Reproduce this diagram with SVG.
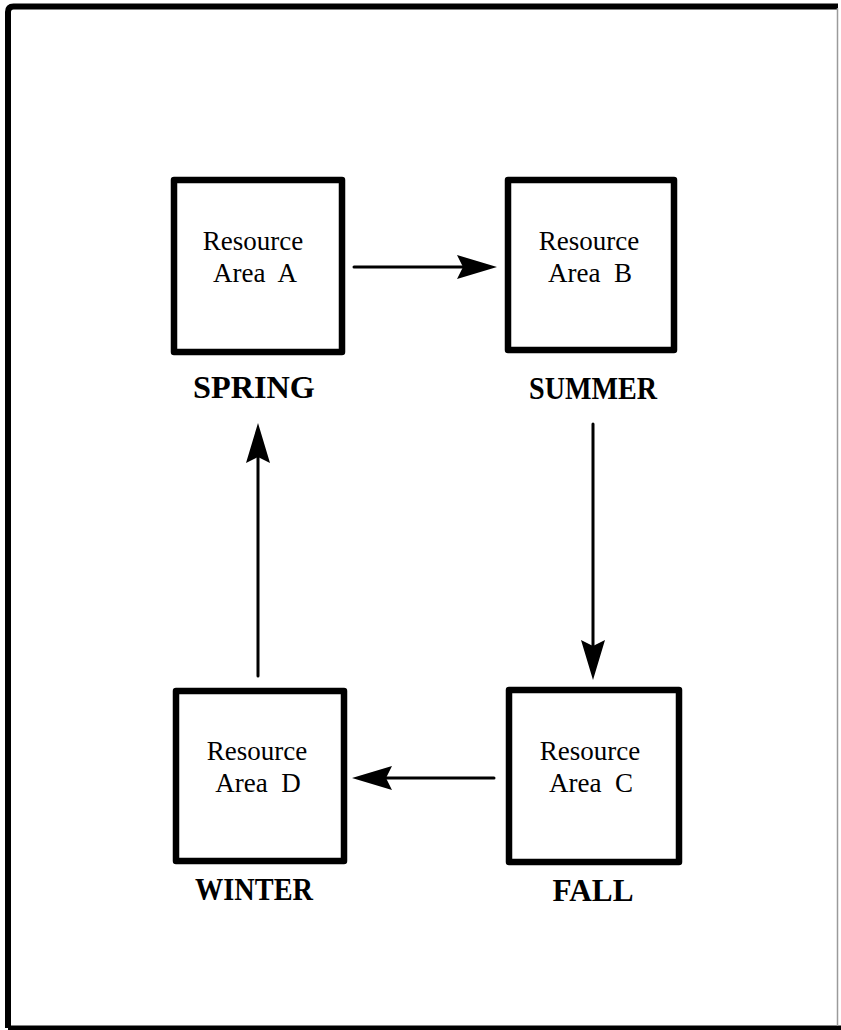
<svg xmlns="http://www.w3.org/2000/svg" width="841" height="1030" viewBox="0 0 841 1030">
  <style>
    .box { fill: #ffffff; stroke: #000000; stroke-width: 6.5; stroke-linejoin: round; }
    .inner { font-family: "Liberation Serif", "Times New Roman", serif; font-size: 27px; fill: #000000; text-anchor: middle; white-space: pre; }
    .season { font-family: "Liberation Serif", "Times New Roman", serif; font-size: 31px; font-weight: bold; fill: #000000; text-anchor: middle; }
    .conn { fill: none; stroke: #000000; stroke-width: 3; stroke-linecap: round; }
  </style>
  <defs>
    <marker id="head" markerUnits="userSpaceOnUse" viewBox="-14 -14 46 28" markerWidth="46" markerHeight="28" refX="0" refY="0" orient="auto">
      <path d="M30,0 L-10,-12 L-4,0 L-10,12 Z" fill="#000000"/>
    </marker>
  </defs>

  <rect x="0" y="0" width="841" height="1030" fill="#ffffff"/>

  <!-- outer frame -->
  <g id="frame">
    <path d="M8,1028 L8,12 Q8,6.5 13.5,6.5 L838,6.5" fill="none" stroke="#000000" stroke-width="6"/>
    <path d="M8,1028 L841,1028" fill="none" stroke="#000000" stroke-width="5"/>
    <path d="M837.5,8 L837.5,1026" fill="none" stroke="#9a9a9a" stroke-width="1.5"/>
  </g>

  <!-- resource areas -->
  <g id="node-a">
    <rect class="box" x="174" y="180" width="168" height="172"/>
    <text class="inner" x="253" y="250">Resource</text>
    <text class="inner" x="255" y="282">Area  A</text>
    <text class="season" x="254" y="398" textLength="122" lengthAdjust="spacingAndGlyphs">SPRING</text>
  </g>
  <g id="node-b">
    <rect class="box" x="508" y="180" width="166" height="170"/>
    <text class="inner" x="589" y="250">Resource</text>
    <text class="inner" x="590" y="282">Area  B</text>
    <text class="season" x="593" y="399" textLength="128" lengthAdjust="spacingAndGlyphs">SUMMER</text>
  </g>
  <g id="node-c">
    <rect class="box" x="509" y="690" width="170" height="172"/>
    <text class="inner" x="590" y="760">Resource</text>
    <text class="inner" x="591" y="792">Area  C</text>
    <text class="season" x="593" y="901" textLength="81" lengthAdjust="spacingAndGlyphs">FALL</text>
  </g>
  <g id="node-d">
    <rect class="box" x="176" y="691" width="168" height="170"/>
    <text class="inner" x="257" y="760">Resource</text>
    <text class="inner" x="258" y="792">Area  D</text>
    <text class="season" x="254" y="900" textLength="118" lengthAdjust="spacingAndGlyphs">WINTER</text>
  </g>

  <!-- seasonal movement -->
  <g id="connectors">
    <path class="conn" d="M354,267 L467,267" marker-end="url(#head)"/>
    <path class="conn" d="M593,424 L593,650" marker-end="url(#head)"/>
    <path class="conn" d="M494,778 L382,778" marker-end="url(#head)"/>
    <path class="conn" d="M258,676 L258,453" marker-end="url(#head)"/>
  </g>
</svg>
